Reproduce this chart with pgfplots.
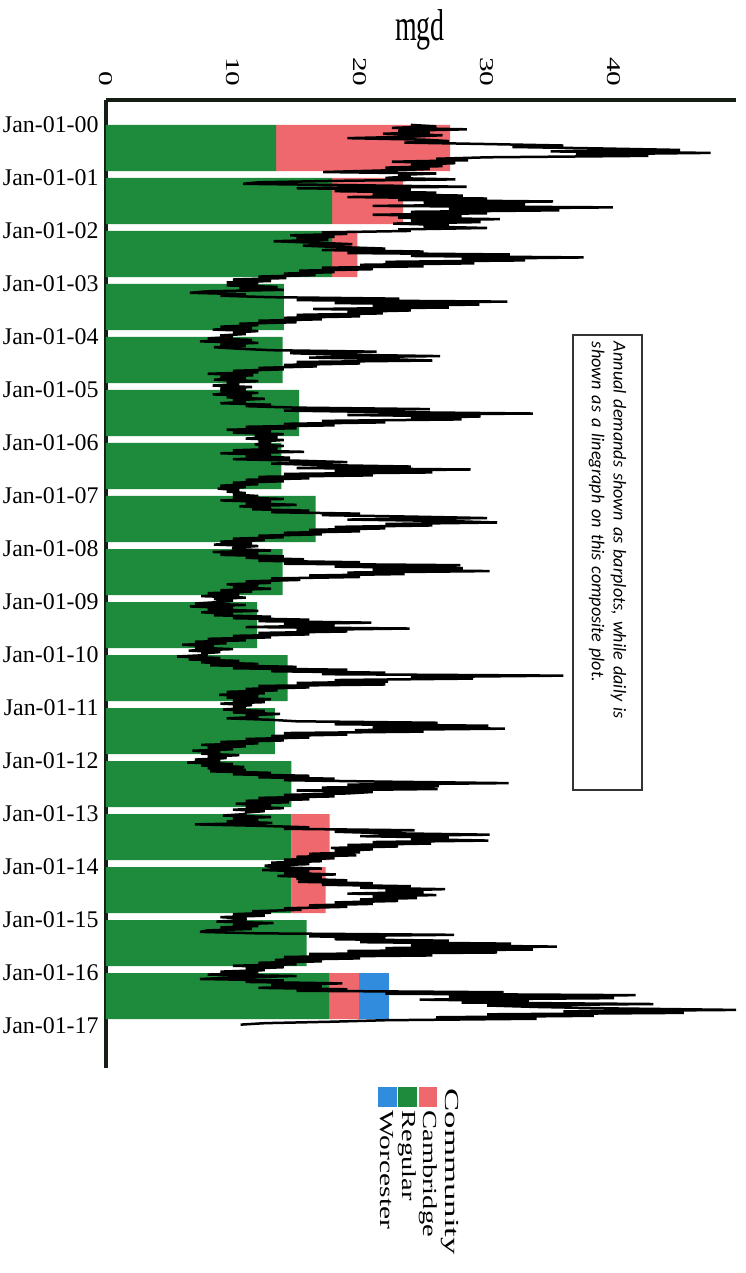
\documentclass[border=0pt]{standalone}
\usepackage{graphicx}
\usepackage{pgfplots}
\pgfplotsset{compat=1.18}
\usepackage{fontspec}
\setmainfont{Liberation Serif}
\newfontfamily\calib{Carlito}
\definecolor{bargreen}{RGB}{30,138,60}
\definecolor{barpink}{RGB}{238,104,110}
\definecolor{barblue}{RGB}{50,140,222}
\definecolor{axisc}{RGB}{20,30,20}
\begin{document}
\begin{tikzpicture}
\useasboundingbox (-53bp,-102.5bp) rectangle (320bp,534bp);
\begin{axis}[
  scale only axis, width=315bp, height=484bp,
  xmin=0, xmax=49.6, ymin=-17.79, ymax=0.47,
  axis x line*=top, axis y line*=left,
  axis line style={-, line width=2.2bp, draw=axisc},
  xtick={0,10,20,30,40},
  xticklabels={\scalebox{1.5}[1]{0},\scalebox{1.5}[1]{10},\scalebox{1.5}[1]{20},\scalebox{1.5}[1]{30},\scalebox{1.5}[1]{40}},
  xticklabel style={rotate=-90, anchor=east, inner sep=0pt, font=\fontsize{9.8}{9.8}\selectfont},
  xticklabel shift=6.5bp,
  ytick={0,-1,-2,-3,-4,-5,-6,-7,-8,-9,-10,-11,-12,-13,-14,-15,-16,-17},
  yticklabels={Jan-01-00,Jan-01-01,Jan-01-02,Jan-01-03,Jan-01-04,Jan-01-05,Jan-01-06,Jan-01-07,Jan-01-08,Jan-01-09,Jan-01-10,Jan-01-11,Jan-01-12,Jan-01-13,Jan-01-14,Jan-01-15,Jan-01-16,Jan-01-17},
  yticklabel style={font=\fontsize{12}{12}\selectfont, anchor=east, inner sep=0pt, xshift=-3.5bp},
  major tick length=0pt,
  xbar stacked, bar width=0.87,
]
% Regular (green)
\addplot[fill=bargreen, draw=none] coordinates {
(13.4,-0.435) (17.8,-1.435) (17.8,-2.435) (14.0,-3.435) (13.9,-4.435) (15.2,-5.435)
(13.8,-6.435) (16.5,-7.435) (13.9,-8.435) (11.9,-9.435) (14.3,-10.435) (13.3,-11.435)
(14.6,-12.435) (14.6,-13.435) (14.6,-14.435) (15.8,-15.435) (17.6,-16.435)};
% Cambridge (pink)
\addplot[fill=barpink, draw=none] coordinates {
(13.7,-0.435) (5.6,-1.435) (2.0,-2.435) (0,-3.435) (0,-4.435) (0,-5.435)
(0,-6.435) (0,-7.435) (0,-8.435) (0,-9.435) (0,-10.435) (0,-11.435)
(0,-12.435) (3.0,-13.435) (2.7,-14.435) (0,-15.435) (2.3,-16.435)};
% Worcester (blue)
\addplot[fill=barblue, draw=none] coordinates {
(0,-0.435) (0,-1.435) (0,-2.435) (0,-3.435) (0,-4.435) (0,-5.435)
(0,-6.435) (0,-7.435) (0,-8.435) (0,-9.435) (0,-10.435) (0,-11.435)
(0,-12.435) (0,-13.435) (0,-14.435) (0,-15.435) (2.4,-16.435)};
\end{axis}
\begin{axis}[
  scale only axis, width=315bp, height=484bp,
  xmin=0, xmax=49.6, ymin=-17.79, ymax=0.47, hide axis,
]
\addplot[black, line width=1.25bp, line join=bevel] table[row sep=\\, x=v, y expr=-\coordindex/36] {
v\\
24\\26\\22.5\\28.4\\23\\25.5\\21.8\\26.5\\24\\19\\25\\27\\23.5\\30\\36\\32\\39\\45.2\\35\\47.6\\37\\42.7\\30\\26\\28.5\\22.5\\27.5\\24\\26.5\\22\\25.5\\21.5\\17.1\\26\\23\\24\\
22\\27.5\\18\\12\\10.8\\20\\28.4\\15\\24\\18\\26\\21\\28.1\\19\\30\\23\\35.2\\25\\33\\21\\39.9\\27\\35.7\\24\\30\\21\\28\\23\\31\\24\\29.5\\22.6\\27\\25\\30\\23\\
24\\17\\19\\14.5\\18\\15\\17.5\\13.2\\16.5\\19.4\\15.5\\18.5\\22\\17\\25\\19\\31.8\\24\\37.6\\28\\33\\22\\29\\20\\25\\17\\21\\15.2\\18\\14\\16.5\\12\\14.2\\10\\13\\9.5\\
12\\9.5\\13.5\\10.5\\14\\8\\6.6\\11\\9\\13\\23.1\\15\\31.6\\18\\29.4\\21\\27\\16.3\\24\\19\\21.8\\15\\20\\14\\17\\12\\15\\10.5\\12\\9\\11.5\\8.4\\12\\10\\11\\9\\
10\\8\\11.5\\7.4\\12\\9\\11\\8.5\\10.5\\13\\21.3\\14.5\\18\\26.3\\16\\22\\25.7\\15\\20\\14\\16.6\\12\\14\\10\\12\\8\\11.6\\9\\11\\8.5\\12\\9.5\\10.5\\8.4\\11.5\\9\\
11\\9\\12\\8.4\\11.5\\9.5\\12.5\\10\\11\\9\\13\\11\\15\\25.5\\14\\22\\33.6\\19\\29.5\\24\\28\\17\\22\\14\\18\\11\\15\\9.5\\13\\10\\14\\11.7\\13.5\\11\\14\\12\\
13\\11.7\\14\\12\\13.5\\10\\15.6\\9\\13\\11\\14.5\\10\\15\\19\\13\\17\\24\\15\\28.7\\18\\25.7\\14\\21\\12\\16\\11\\14\\10\\12\\9\\11\\8.8\\10.5\\9.5\\11\\10\\
12\\10\\14\\9\\13\\11\\15\\10.5\\13\\11.5\\16\\13\\20\\17\\24\\30\\19\\27\\30.8\\22\\25.7\\18\\22\\16\\20\\14\\17\\12\\14\\10\\12.5\\9\\11.5\\8.5\\12\\10\\
10\\13\\8.4\\12\\9\\14\\11\\15.6\\12\\20\\14\\27.9\\18\\28.1\\21\\30.2\\19\\23.5\\16\\20\\13\\15.3\\11\\13\\9.5\\12\\10\\13\\9\\11.5\\8\\10.5\\7.5\\11\\8.5\\10\\
9\\7\\11\\6.6\\10\\8\\12\\7.5\\10\\8.5\\13\\10\\16\\12\\20.9\\14\\18\\11\\23.9\\15\\19\\12\\16\\10\\13\\8\\11\\7\\9.5\\6\\8.5\\7\\10\\6.5\\9\\7.5\\
8\\5.6\\9\\6.5\\10.5\\7.5\\12\\8.2\\15\\10\\19\\13\\22\\17\\36\\24\\28.9\\18\\22.2\\15\\22\\12\\16\\11\\13.5\\9.5\\12.5\\8.9\\12\\9.5\\13\\10\\12.5\\9\\11.5\\10\\
11\\9.2\\12.5\\10\\13.7\\11\\12\\9.5\\13\\15\\26.1\\18\\30.1\\21\\31.4\\19.6\\25\\14\\19\\13\\16\\11\\14\\9\\12\\7.5\\11\\8\\10\\6.8\\9\\7.5\\10.5\\8\\9.5\\7\\
9\\6.4\\10\\7.5\\10.9\\8\\11\\8.2\\13\\10\\16\\12\\18\\14\\22\\31.7\\19\\26.2\\17\\26.1\\15\\21\\19\\14\\18\\12\\16\\11\\14.4\\10.2\\13\\11\\14\\10\\12.5\\11\\
11\\9.2\\13\\10\\12\\9.5\\13.1\\7\\12.2\\16\\14\\24.3\\18\\22\\30.2\\20\\27\\24\\30.1\\21\\25.6\\19\\23\\17.7\\21\\18\\20\\16\\19.7\\15\\18\\14\\17\\13\\16\\12.5\\
13\\17\\12.3\\16\\14\\18.1\\13.5\\17\\15\\19\\15.1\\21\\17\\24\\20\\26.7\\22\\25\\19\\26\\21\\24.5\\20\\23\\18\\21\\16\\19\\14\\15.4\\11.5\\13\\10\\12.5\\9\\11\\
11\\8.7\\13.2\\10\\12\\9\\11.5\\8\\7.4\\12\\27.4\\16\\22\\18\\27\\20\\31.9\\24\\35.5\\22\\33.6\\19\\30.8\\16\\25.7\\14\\20\\13.3\\17\\12\\15\\10\\14\\11\\12.5\\9\\
12\\8\\15\\10\\7.4\\14\\11\\18.6\\13\\17\\12\\19\\15\\31.3\\22\\41.7\\27\\40\\24.7\\33.3\\28\\43.1\\30\\33.9\\40\\49.6\\36\\45.5\\30\\38.4\\26\\33.9\\22\\17.8\\12.5\\10.6\\
};
\end{axis}
% axis title
\node at (157bp,519bp) {\fontsize{14}{14}\selectfont\scalebox{1}[1.6]{mgd}};
% annotation box
\node[draw=black!80, line width=0.7bp, rotate=-90, minimum width=227.5bp, minimum height=34.5bp,
      inner xsep=3.5bp, text width=220.5bp, align=left,
      font=\calib\itshape\fontsize{9.1}{11}\selectfont] at (250.75bp,252.75bp)
  {Annual demands shown as barplots, while daily is\\ shown as a linegraph on this composite plot.};
% legend
\fill[barpink]  (156.3bp,-9.5bp) rectangle (165.7bp,-19.5bp);
\fill[bargreen] (146.0bp,-9.5bp) rectangle (155.5bp,-19.5bp);
\fill[barblue]  (135.8bp,-9.5bp) rectangle (145.3bp,-19.5bp);
\node[rotate=-90, anchor=west, inner sep=0pt, font=\fontsize{10}{10}\selectfont] at (171.75bp,-10bp) {\scalebox{1.75}[1]{Community}};
\node[rotate=-90, anchor=west, inner sep=0pt, font=\fontsize{10}{10}\selectfont] at (161bp,-21bp) {\scalebox{1.43}[1]{Cambridge}};
\node[rotate=-90, anchor=west, inner sep=0pt, font=\fontsize{10}{10}\selectfont] at (150.75bp,-21bp) {\scalebox{1.43}[1]{Regular}};
\node[rotate=-90, anchor=west, inner sep=0pt, font=\fontsize{10}{10}\selectfont] at (140.5bp,-21bp) {\scalebox{1.48}[1]{Worcester}};
\end{tikzpicture}
\end{document}
